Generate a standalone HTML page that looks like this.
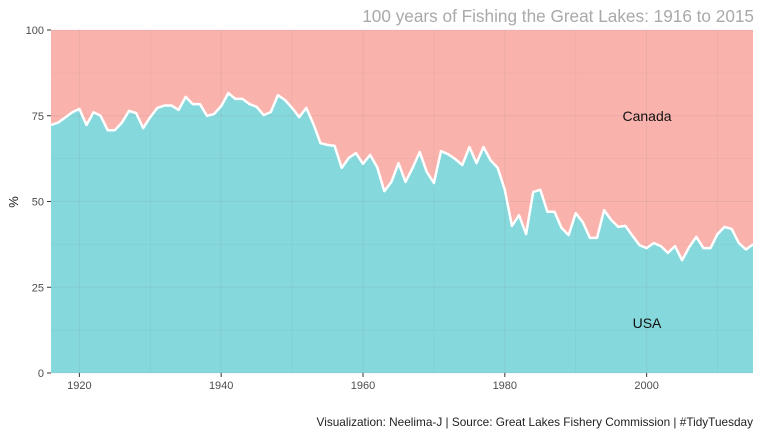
<!DOCTYPE html>
<html><head><meta charset="utf-8"><style>
body{margin:0;background:#fff;}
svg{display:block;font-family:"Liberation Sans",sans-serif;}
</style></head><body>
<svg id="chart" width="761" height="434" viewBox="0 0 761 434">
<text x="754" y="22" text-anchor="end" font-size="17.2" fill="#a9a9a9">100 years of Fishing the Great Lakes: 1916 to 2015</text>
<text x="753" y="426" text-anchor="end" font-size="11.8" fill="#222">Visualization: Neelima-J | Source: Great Lakes Fishery Commission | #TidyTuesday</text>
<text transform="translate(18,202) rotate(-90)" text-anchor="middle" font-size="13" fill="#222">%</text>
<g id="plot"></g>
</svg>
<script>
const years=[];for(let y=1916;y<=2015;y++)years.push(y);
const usa=[72.3,73,74.5,76,77,72.3,76,75,70.8,70.8,73,76.4,75.8,71.4,74.6,77.3,78,78,76.7,80.5,78.4,78.4,75,75.5,77.8,81.6,79.9,79.9,78.4,77.6,75.2,76.1,81,79.6,77.3,74.6,77.3,72.6,67,66.5,66.2,59.8,62.7,64.1,61,63.6,60,53,55.7,61.2,55.7,59.8,64.4,58.6,55.4,64.7,63.8,62.4,60.6,65.9,61.2,65.9,62,59.8,53.4,42.9,46,40.5,52.8,53.4,47,47,42.3,40.2,46.6,44,39.4,39.4,47.5,44.6,42.6,42.9,40,37.3,36.4,37.9,37,35,37,32.9,36.7,39.7,36.4,36.4,40.5,42.6,42,37.9,36,37.5,36.6];
const yTicks=[0,25,50,75,100];
const xTicks=[1920,1940,1960,1980,2000];
const L=51,R=753,T=30,B=373;
const x=v=>L+(v-1916)/(2015-1916)*(R-L);
const y=v=>B-v/100*(B-T);
const NS="http://www.w3.org/2000/svg";
const g=document.getElementById('plot');
function mk(t,a){const e=document.createElementNS(NS,t);for(const k in a)e.setAttribute(k,a[k]);g.appendChild(e);return e;}
let bg=mk('rect',{x:L,y:T,width:R-L,height:B-T,fill:'#fab2ad'});


let pts=years.map((yr,i)=>x(yr).toFixed(1)+','+y(usa[i]).toFixed(1));
let area=mk('path',{d:'M'+x(1916)+','+B+' L'+pts.join(' L')+' L'+x(2015)+','+B+'Z',fill:'#85d8db'});


for(let v=0;v<=100;v+=12.5){let l=mk('line',{x1:L,x2:R,y1:y(v),y2:y(v),stroke:'rgba(120,120,120,0.12)','stroke-width':v%25==0?1:0.6});

}
for(let v=1920;v<=2010;v+=10){let l=mk('line',{x1:x(v),x2:x(v),y1:T,y2:B,stroke:'rgba(120,120,120,0.12)','stroke-width':v%20==0?1:0.6});

}
let line=mk('polyline',{points:pts.join(' '),fill:'none',stroke:'#fff','stroke-width':2.5,'stroke-linejoin':'round'});


yTicks.forEach(v=>{let t=mk('line',{x1:L-4,x2:L,y1:y(v),y2:y(v),stroke:'#333'});


let tx=mk('text',{x:L-7,y:y(v)+4,'text-anchor':'end','font-size':11,fill:'#4d4d4d'});tx.textContent=v;

});
xTicks.forEach(v=>{let t=mk('line',{x1:x(v),x2:x(v),y1:B,y2:B+4,stroke:'#333'});


let tx=mk('text',{x:x(v),y:B+16,'text-anchor':'middle','font-size':11,fill:'#4d4d4d'});tx.textContent=v;

});
let c=mk('text',{x:647,y:121,'text-anchor':'middle','font-size':14,fill:'#111'});c.textContent='Canada';


let u=mk('text',{x:647,y:328,'text-anchor':'middle','font-size':14,fill:'#111'});u.textContent='USA';


</script>
</body></html>
